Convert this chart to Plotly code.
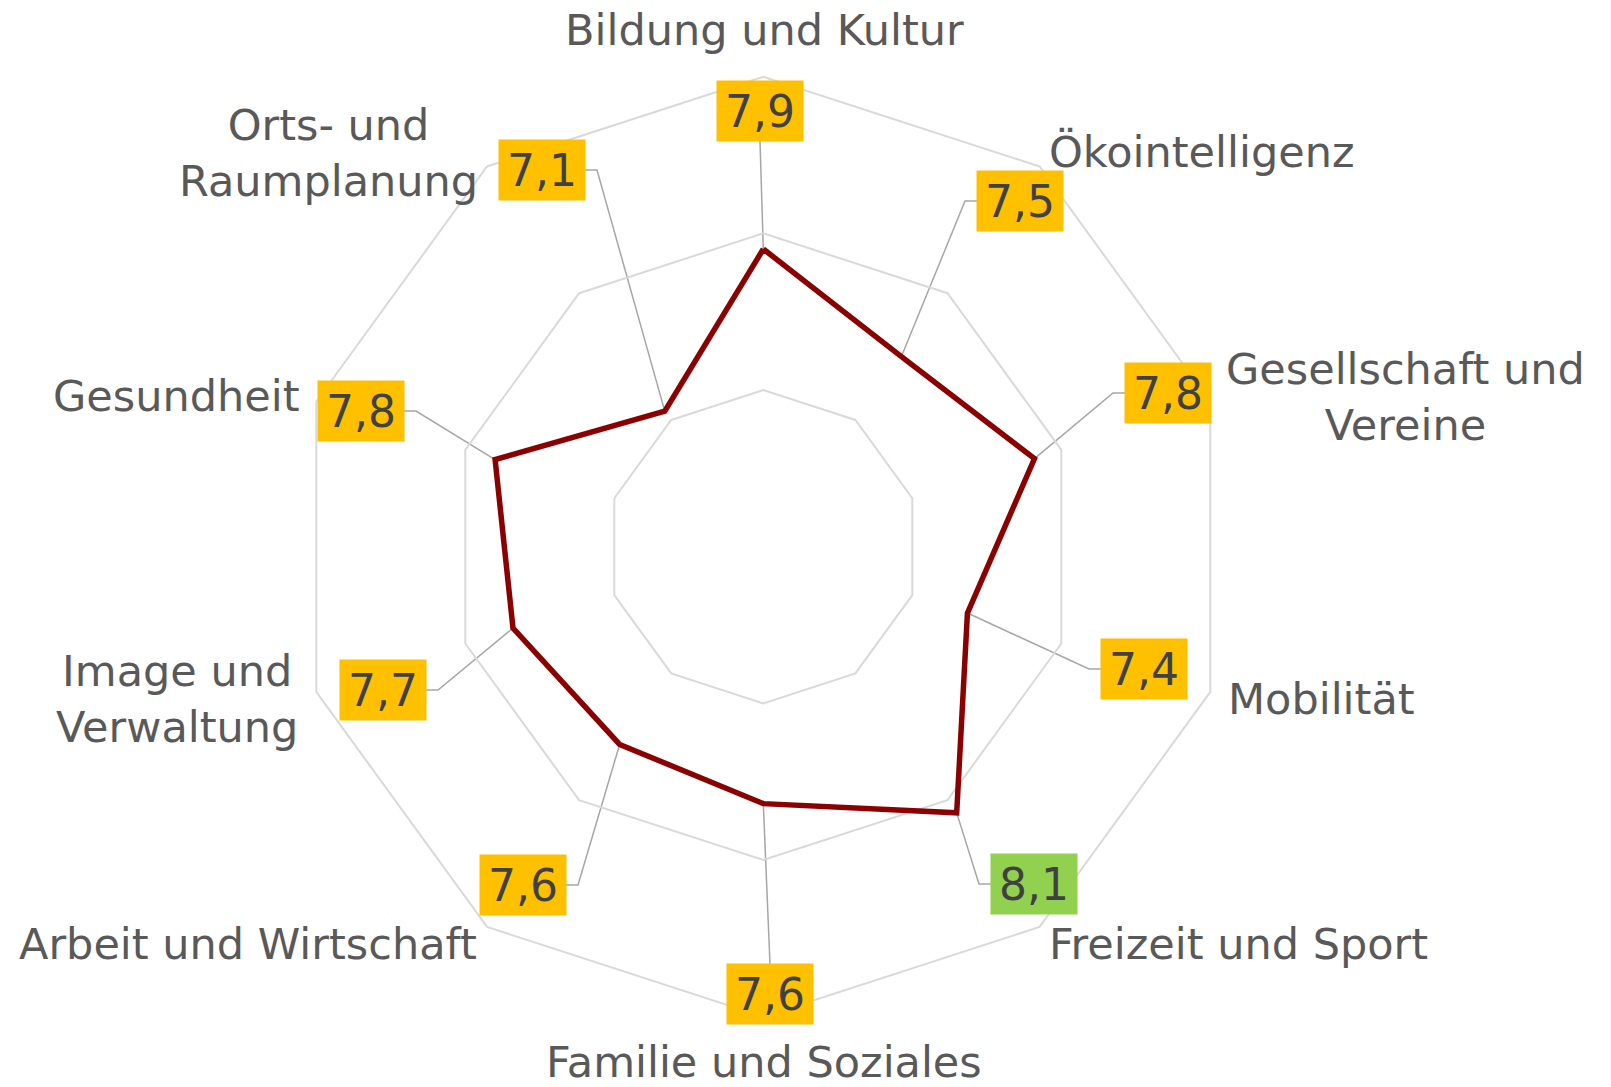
import math
import plotly.graph_objects as go

# ---------------- data ----------------
categories = [
    "Bildung und Kultur", "Ökointelligenz", "Gesellschaft und Vereine", "Mobilität",
    "Freizeit und Sport", "Familie und Soziales", "Arbeit und Wirtschaft",
    "Image und Verwaltung", "Gesundheit", "Orts- und Raumplanung",
]
values = [7.90, 7.50, 7.82, 7.37, 8.10, 7.64, 7.56, 7.68, 7.80, 7.07]
axis_labels = [
    "Bildung und Kultur", "Ökointelligenz", "Gesellschaft und<br>Vereine", "Mobilität",
    "Freizeit und Sport", "Familie und Soziales", "Arbeit und Wirtschaft",
    "Image und<br>Verwaltung", "Gesundheit", "Orts- und<br>Raumplanung",
]
radial_ticks = [7, 8, 9]
r_min, r_max = 6, 9

# ---------------- layout geometry (pixels) ----------------
W, H = 1611, 1087
CX, CY, R = 763.3, 546.7, 470.0
BW, BH = 86, 60

# category label placement: (x, y, xanchor)
cat_pos = [
    (764, 30, "center"), (1047, 152, "left"), (1405, 397, "center"), (1226, 699, "left"),
    (1047, 944, "left"), (764, 1062, "center"), (479, 944, "right"),
    (177, 699, "center"), (302, 396, "right"), (328, 153, "center"),
]
# value label box centres
box_pos = [
    (760, 111), (1020, 201), (1168, 393), (1144, 669), (1034, 884),
    (770, 994), (523, 885), (383, 690), (361, 411), (542, 170),
]

GRID = "#d9d9d9"
LINE = "#8B0000"
LEADER = "#a6a6a6"
CAT_COL = "#595959"
VAL_COL = "#404040"
GOLD = "#FFC000"
GREEN = "#92D050"
FONT = "DejaVu Sans"


def polar_px(v, i):
    a = math.radians(i * 360 / len(categories))
    rr = (v - r_min) / (r_max - r_min) * R
    return CX + rr * math.sin(a), CY - rr * math.cos(a)


# leader lines
lx, ly = [], []
for i, v in enumerate(values):
    px, py = polar_px(v, i)
    bx, by = box_pos[i]
    if abs(bx - px) < BW / 2:
        ey = by + BH / 2 if by < py else by - BH / 2
        lx += [px, bx, None]
        ly += [py, ey, None]
    else:
        side = -1 if bx > px else 1
        ex = bx + side * BW / 2
        kx = ex + side * 12
        lx += [px, kx, ex, None]
        ly += [py, by, by, None]

fig = go.Figure()
fig.add_trace(go.Scatter(
    x=lx, y=ly, mode="lines", line=dict(color=LEADER, width=1.5),
    hoverinfo="skip", showlegend=False,
))
fig.add_trace(go.Scatterpolar(
    r=values + values[:1], theta=categories + categories[:1], mode="lines",
    line=dict(color=LINE, width=5.5), showlegend=False, hoverinfo="skip",
))

annotations = []
for i, lab in enumerate(axis_labels):
    x, y, xa = cat_pos[i]
    annotations.append(dict(
        x=x, y=y, xref="x", yref="y", text=lab, showarrow=False,
        xanchor=xa, yanchor="middle", align="center",
        font=dict(family=FONT, size=43, color=CAT_COL),
    ))
for i, v in enumerate(values):
    bx, by = box_pos[i]
    annotations.append(dict(
        x=bx, y=by, xref="x", yref="y",
        text=f"{v:.1f}".replace(".", ","), showarrow=False,
        xanchor="center", yanchor="middle", width=BW, height=BH,
        borderpad=0, bgcolor=GREEN if v >= 8 else GOLD,
        font=dict(family=FONT, size=44, color=VAL_COL),
    ))

fig.update_layout(
    width=W, height=H, autosize=False,
    margin=dict(l=0, r=0, t=0, b=0),
    paper_bgcolor="white", plot_bgcolor="rgba(0,0,0,0)",
    xaxis=dict(range=[0, W], visible=False, domain=[0, 1], fixedrange=True),
    yaxis=dict(range=[H, 0], visible=False, domain=[0, 1], fixedrange=True),
    polar=dict(
        domain=dict(x=[(CX - R) / W, (CX + R) / W], y=[1 - (CY + R) / H, 1 - (CY - R) / H]),
        bgcolor="rgba(0,0,0,0)",
        gridshape="linear",
        radialaxis=dict(
            range=[r_min, r_max], tickvals=radial_ticks, showticklabels=False,
            ticks="", showline=False, gridcolor=GRID, gridwidth=2,
        ),
        angularaxis=dict(
            direction="clockwise", rotation=90, showticklabels=False, ticks="",
            showgrid=False, showline=True, linecolor=GRID, linewidth=2,
        ),
    ),
    annotations=annotations,
    showlegend=False,
)

fig.write_html("out.html")
